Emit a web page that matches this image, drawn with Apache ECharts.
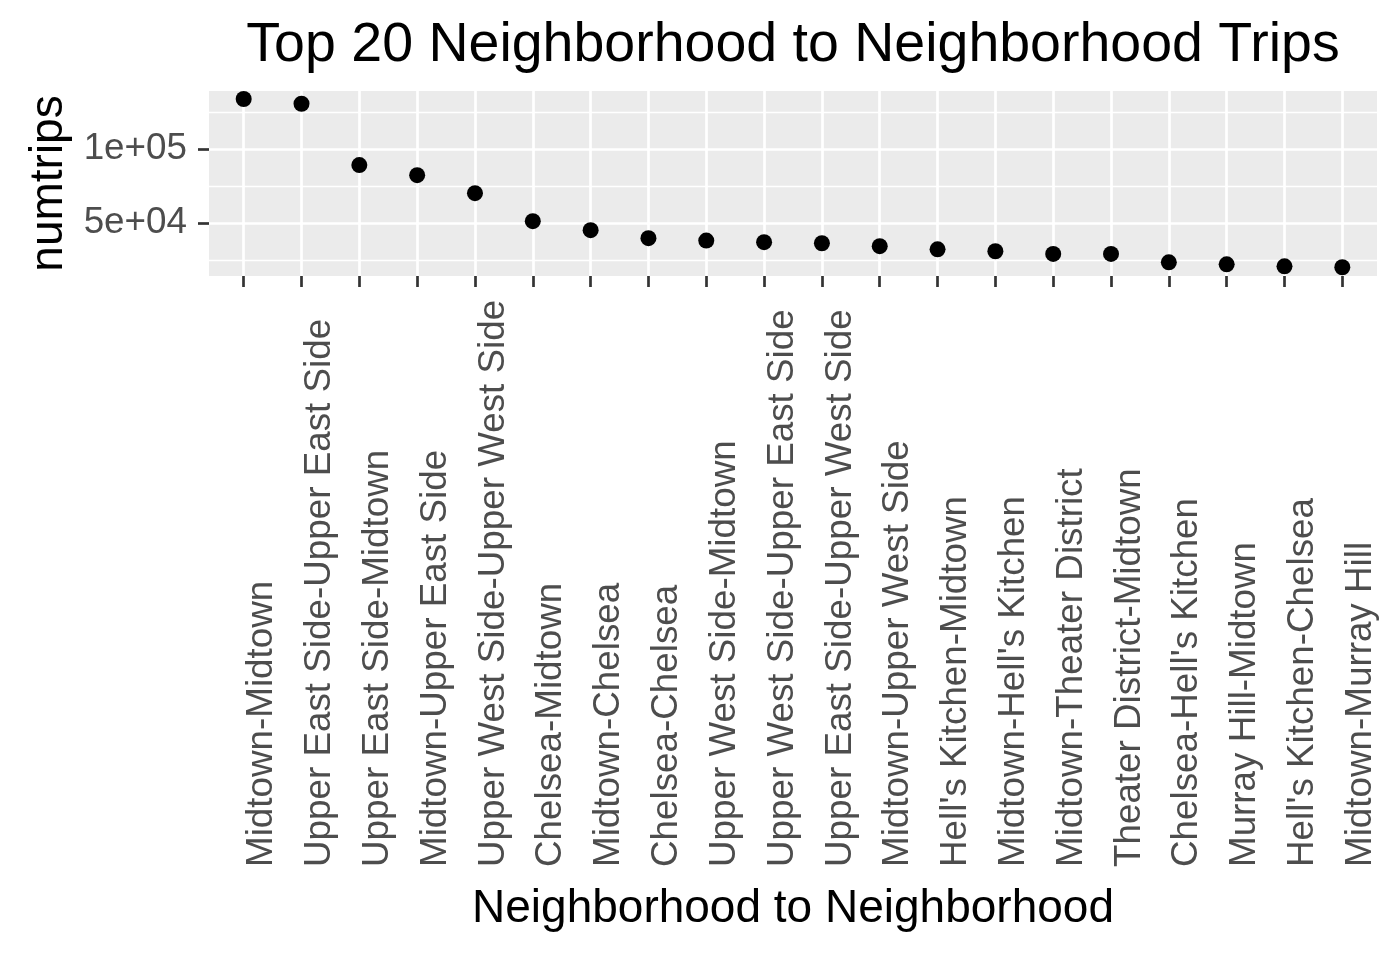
<!DOCTYPE html>
<html>
<head>
<meta charset="utf-8">
<title>Top 20 Neighborhood to Neighborhood Trips</title>
<script src="https://cdn.jsdelivr.net/npm/echarts@6/dist/echarts.min.js"></script>
<style>
  html, body { margin: 0; padding: 0; background: #fff; }
  #chart { width: 1400px; height: 953px; }
</style>
</head>
<body>
<div id="chart"></div>
<script>
// neighborhood pairs, ordered by trip count
var categories = [
  'Midtown-Midtown',
  'Upper East Side-Upper East Side',
  'Upper East Side-Midtown',
  'Midtown-Upper East Side',
  'Upper West Side-Upper West Side',
  'Chelsea-Midtown',
  'Midtown-Chelsea',
  'Chelsea-Chelsea',
  'Upper West Side-Midtown',
  'Upper West Side-Upper East Side',
  'Upper East Side-Upper West Side',
  'Midtown-Upper West Side',
  "Hell's Kitchen-Midtown",
  "Midtown-Hell's Kitchen",
  'Midtown-Theater District',
  'Theater District-Midtown',
  "Chelsea-Hell's Kitchen",
  'Murray Hill-Midtown',
  "Hell's Kitchen-Chelsea",
  'Midtown-Murray Hill'
]
var numtrips = [
  133800, 130600, 89200, 82400, 70300, 51400, 45300, 39900, 38300, 37200,
  36500, 34500, 32400, 31100, 29300, 29300, 23600, 22300, 20900, 20300
]
var yMajorTicks = [50000, 100000]
var yMinorTicks = [25000, 75000, 125000]

var FONT = "'Liberation Sans', Arial, sans-serif"
var catIndex = categories.map(function (c, i) { return i })

var chart = echarts.init(document.getElementById('chart'))
chart.setOption({
  animation: false,
  backgroundColor: '#ffffff',
  title: {
    text: 'Top 20 Neighborhood to Neighborhood Trips',
    left: 793,
    top: 18,
    padding: 0,
    textAlign: 'center',
    textStyle: {
      fontFamily: FONT,
      fontWeight: 'normal',
      fontSize: 55.5,
      color: '#000000'
    }
  },
  grid: {
    left: 209,
    right: 23,
    top: 91,
    bottom: 677,
    show: true,
    backgroundColor: '#EBEBEB',
    borderWidth: 0
  },
  xAxis: {
    type: 'value',
    min: -0.6,
    max: 19.6,
    name: 'Neighborhood to Neighborhood',
    nameLocation: 'middle',
    nameGap: 633,
    nameTextStyle: {
      fontFamily: FONT,
      fontSize: 46,
      color: '#000000',
      verticalAlign: 'middle'
    },
    axisLine: { show: false, onZero: false },
    axisTick: {
      show: true,
      customValues: catIndex,
      length: 11,
      lineStyle: { color: '#333333', width: 2.7 }
    },
    axisLabel: {
      customValues: catIndex,
      rotate: 90,
      align: 'left',
      verticalAlign: 'top',
      margin: 591,
      fontFamily: FONT,
      fontSize: 36.8,
      color: '#4D4D4D',
      formatter: function (v) { return categories[Math.round(v)] }
    },
    splitLine: {
      show: true,
      lineStyle: { color: '#ffffff', width: 2.7 }
    }
  },
  yAxis: [
    {
      type: 'value',
      min: 14400,
      max: 139200,
      name: 'numtrips',
      nameLocation: 'middle',
      nameGap: 151,
      nameTextStyle: {
        fontFamily: FONT,
        fontSize: 46,
        color: '#000000',
        verticalAlign: 'middle'
      },
      axisLine: { show: false, onZero: false },
      axisTick: {
        show: true,
        customValues: yMajorTicks,
        length: 11,
        lineStyle: { color: '#333333', width: 2.7 }
      },
      axisLabel: {
        customValues: yMajorTicks,
        margin: 22,
        padding: [5, 0, 0, 0],
        fontFamily: FONT,
        fontSize: 36.8,
        color: '#4D4D4D',
        formatter: function (v) {
          return v.toExponential().replace(/e\+(\d)$/, 'e+0$1')
        }
      },
      splitLine: {
        show: true,
        lineStyle: { color: '#ffffff', width: 2.7 }
      }
    },
    {
      // minor grid lines only
      type: 'value',
      min: 14400,
      max: 139200,
      position: 'left',
      axisLine: { show: false, onZero: false },
      axisTick: { show: false, customValues: yMinorTicks },
      axisLabel: { show: false },
      splitLine: {
        show: true,
        lineStyle: { color: '#ffffff', width: 1.4 }
      }
    }
  ],
  series: [
    {
      type: 'scatter',
      yAxisIndex: 0,
      symbol: 'circle',
      symbolSize: 16,
      itemStyle: { color: '#000000', opacity: 1 },
      data: catIndex.map(function (i) { return [i, numtrips[i]] }),
      z: 5
    }
  ]
})
</script>
</body>
</html>
